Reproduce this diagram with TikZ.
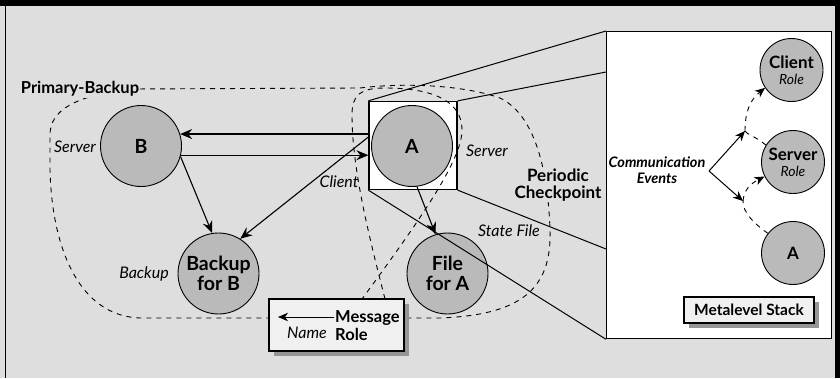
\documentclass[tikz,border=0pt]{standalone}
\usepackage{fontspec}
\setmainfont{Lato}
\usetikzlibrary{arrows.meta,calc,shadows}
\definecolor{bgc}{RGB}{222,222,222}
\definecolor{circf}{RGB}{186,186,186}
\definecolor{boxf}{RGB}{240,240,240}
\definecolor{shad}{RGB}{150,150,150}
\tikzset{
  arr/.style={line width=1.1pt,-{Stealth[length=12pt,width=10pt,inset=4pt]}},
  sarr/.style={line width=1pt,-{Stealth[length=10pt,width=8.5pt,inset=3pt]}},
  dsh/.style={line width=0.9pt,dash pattern=on 5pt off 5pt},
  dsharr/.style={line width=0.9pt,dash pattern=on 5pt off 5pt,-{Stealth[length=10pt,width=8.5pt,inset=3pt]}},
  bigcirc/.style={circle,draw,line width=0.9pt,fill=circf,minimum size=81pt,inner sep=0pt,align=center,font=\fontsize{19.5}{20}\selectfont\bfseries},
  smallcirc/.style={circle,draw,line width=0.9pt,fill=circf,minimum size=63pt,inner sep=0pt,align=center,font=\fontsize{15}{15}\selectfont},
  lbl/.style={inner sep=1pt,font=\fontsize{16}{17}\selectfont\itshape},
  blbl/.style={inner sep=1pt,font=\fontsize{17}{17}\selectfont\bfseries,align=center},
  plainbox/.style={draw,line width=1.3pt,fill=boxf,inner sep=0pt,drop shadow={shadow xshift=5pt,shadow yshift=-5pt,fill=shad,opacity=1}},
}
\begin{document}
\begin{tikzpicture}[x=1pt,y=-1pt]
\useasboundingbox (0,0) rectangle (840,378);
% background and frame
\fill[bgc] (0,0) rectangle (840,378);
\fill[black] (0,0) rectangle (840,5.5);
\fill[black] (4.5,0) rectangle (6.2,378);
\fill[black] (835,0) rectangle (840,378);

% Primary-Backup region
\draw[dsh] (130,89) -- (360,88) .. controls (400,83) and (460,84) .. (500,98)
  .. controls (535,115) and (548,170) .. (550,230)
  .. controls (552,290) and (520,315) .. (440,318) -- (140,318)
  .. controls (80,316) and (52,250) .. (50,170) -- (50,135)
  .. controls (50,110) and (75,96) .. (130,89);

% A node with square
\node[draw,fill=white,line width=1.3pt,minimum size=88pt,inner sep=0pt] (sqA) at (413,145.5) {};
\node[bigcirc] (A) at (412,146) {A};

% Server role region of A
\draw[dsh] (385,299) .. controls (370,240) and (352,170) .. (352,115)
  .. controls (352,95) and (360,88) .. (385,88)
  .. controls (420,88) and (462,95) .. (462,130)
  .. controls (462,160) and (420,220) .. (362,299);

% other circles
\node[bigcirc] (B) at (141,146) {B};
\node[bigcirc] (BB) at (218.5,273.5) {Backup\\for B};
\node[bigcirc] (F) at (447.5,273.5) {File\\for A};

% arrows
\coordinate (aS) at (369,136.5);
\draw[arr] (sqA.west |- B.17) -- (B.17);
\draw[arr] (B.-13) -- (B.-13 -| sqA.west);
\draw[arr] (B.-15) -- (BB.99);
\draw[arr] (aS) -- (BB.58);
\draw[arr] (A.-83) -- (F.107);

% metalevel box and perspective lines
\coordinate (m1) at (606,72);
\coordinate (m2) at (606,249);
\node[draw,fill=white,line width=1.3pt,minimum width=225pt,minimum height=307pt,inner sep=0pt,anchor=north west] (meta) at (606,31) {};
\draw[line width=1pt] (sqA.north west) -- (meta.north west);
\draw[line width=1pt] (sqA.north east) -- (m1);
\draw[line width=1pt] (sqA.south east) -- (m2);
\draw[line width=1pt] (sqA.south west) -- (meta.south west);

% metalevel contents
\node[smallcirc] (CR) at (791.5,70) {\textbf{\fontsize{17}{17}\selectfont Client}\\[1pt]\itshape\fontsize{14}{14}\selectfont Role};
\node[smallcirc] (SR) at (793,162) {\textbf{\fontsize{17}{17}\selectfont Server}\\[1pt]\itshape\fontsize{14}{14}\selectfont Role};
\node[smallcirc,font=\fontsize{17}{17}\selectfont\bfseries] (SA) at (793,253) {A};
\node[inner sep=1pt,align=center,font=\fontsize{14.5}{15.5}\selectfont\bfseries\itshape] (ce) at (657,170) {Communication\\Events};
\coordinate (V) at (709,171);
\coordinate (P1) at (745,131);
\coordinate (P2) at (743,201);
\draw[sarr] (V) -- (P1);
\draw[sarr] (V) -- (P2);
\draw[dsh] (SR.148) .. controls (755,136) and (746,134) .. (P1);
\draw[dsharr] (P1) .. controls (745,112) and (750,100) .. (CR.214);
\draw[dsh] (SA.142) .. controls (752,222) and (743,212) .. (P2);
\draw[dsharr] (P2) .. controls (744,190) and (750,184) .. (SR.207);
\node[plainbox,minimum width=130pt,minimum height=26pt,font=\fontsize{15.5}{16}\selectfont\bfseries] (ms) at (749,310) {Metalevel Stack};

% labels
\node[blbl,fill=bgc,font=\fontsize{16.5}{16}\selectfont\bfseries] (pb) at (80,89) {Primary-Backup};
\node[blbl,fill=bgc] (pc) at (558,185) {Periodic\\Checkpoint};
\node[lbl] (ls1) at (75,147) {Server};
\node[lbl] (lc) at (339,182) {Client};
\node[lbl] (ls2) at (487,151) {Server};
\node[lbl] (lsf) at (509,231) {State File};
\node[lbl] (lb) at (144,274) {Backup};

% legend box
\node[plainbox,minimum width=135pt,minimum height=52pt] (msg) at (336.5,325) {};
\coordinate (mA) at (334,317);
\coordinate (mB) at (278,317);
\draw[sarr] (mA) -- (mB);
\node[inner sep=0pt,anchor=base west,font=\fontsize{16.5}{17}\selectfont\bfseries] (tm) at (335,322.5) {Message};
\node[inner sep=0pt,anchor=base west,font=\fontsize{16.5}{17}\selectfont\bfseries] (tr) at (335,340.5) {Role};
\node[inner sep=0pt,anchor=base,font=\fontsize{16}{16}\selectfont\itshape] (tn) at (307,338) {Name};
\end{tikzpicture}
\end{document}
